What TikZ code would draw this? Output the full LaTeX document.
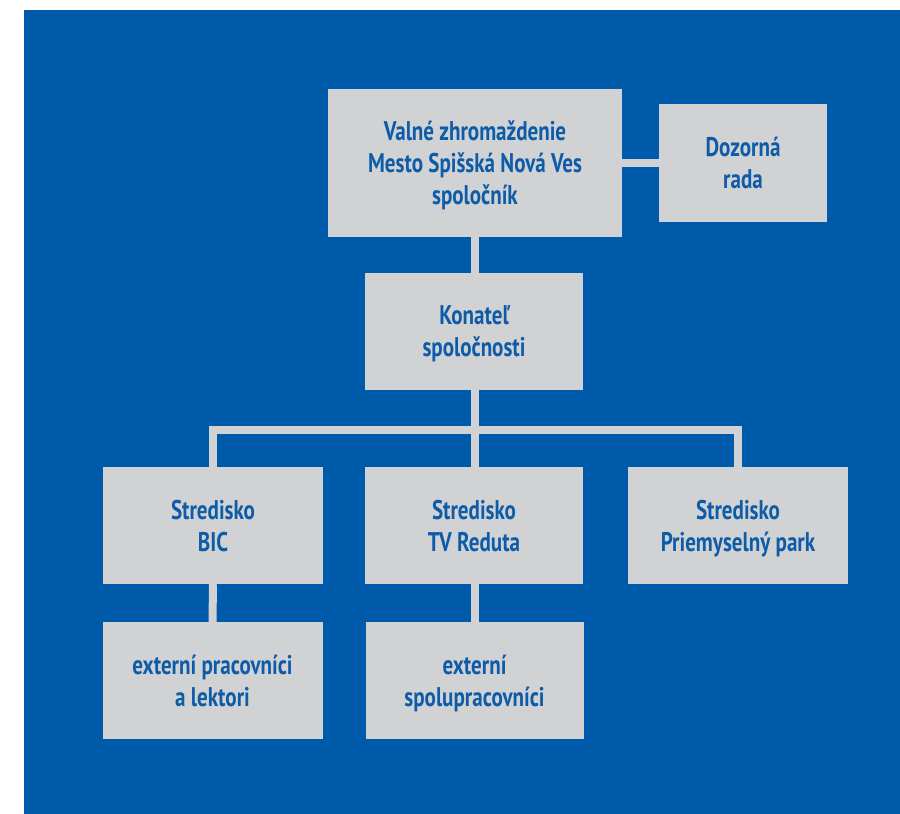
\documentclass[tikz,border=0pt]{standalone}
\usepackage{fontspec}
\setmainfont{PT Sans}[FakeStretch=0.78]
\definecolor{orgblue}{RGB}{0,90,170}
\definecolor{orggray}{RGB}{209,210,212}
\definecolor{orgtext}{RGB}{14,92,168}

\tikzstyle{unit} = [rectangle, fill=orggray, text=orgtext, align=center, inner sep=0pt,
  text depth=-7pt, font=\fontsize{27}{32}\selectfont\bfseries]
\tikzstyle{link} = [draw=orggray, line width=8pt]

\begin{document}
\begin{tikzpicture}[x=1pt,y=-1pt]
		\useasboundingbox (0,0) rectangle (900,814);
		%background
		\fill[orgblue] (24,10) rectangle (900,814);
		%units
		\node[unit, minimum width=294, minimum height=148](assembly) at (475,163) {Valné zhromaždenie\\Mesto Spišská Nová Ves\\spoločník};
		\node[unit, minimum width=168, minimum height=118](board) at (743,163) {Dozorná\\rada};
		\node[unit, minimum width=218, minimum height=117](director) at (474,331.5) {Konateľ\\spoločnosti};
		\node[unit, minimum width=220, minimum height=117](bic) at (213,525.5) {Stredisko\\BIC};
		\node[unit, minimum width=218, minimum height=117](tv) at (474,525.5) {Stredisko\\TV Reduta};
		\node[unit, minimum width=220, minimum height=117](park) at (738,525.5) {Stredisko\\Priemyselný park};
		\node[unit, minimum width=220, minimum height=117](lectors) at (212.5,680.5) {externí pracovníci\\a lektori};
		\node[unit, minimum width=218, minimum height=117](partners) at (474.5,680.5) {externí\\spolupracovníci};
		%links
		\coordinate (bar) at (475,430);
		\draw[link] (assembly.east) -- (board.west);
		\draw[link] (assembly.south) -- (assembly.south |- director.north);
		\draw[link] (director.south -| bar) -- (bar |- tv.north);
		\draw[link] (bic.north) |- (bar) -| (park.north);
		\draw[link] (bic.south) -- (lectors.north);
		\draw[link] (tv.south -| bar) -- (bar |- partners.north);
\end{tikzpicture}
\end{document}
